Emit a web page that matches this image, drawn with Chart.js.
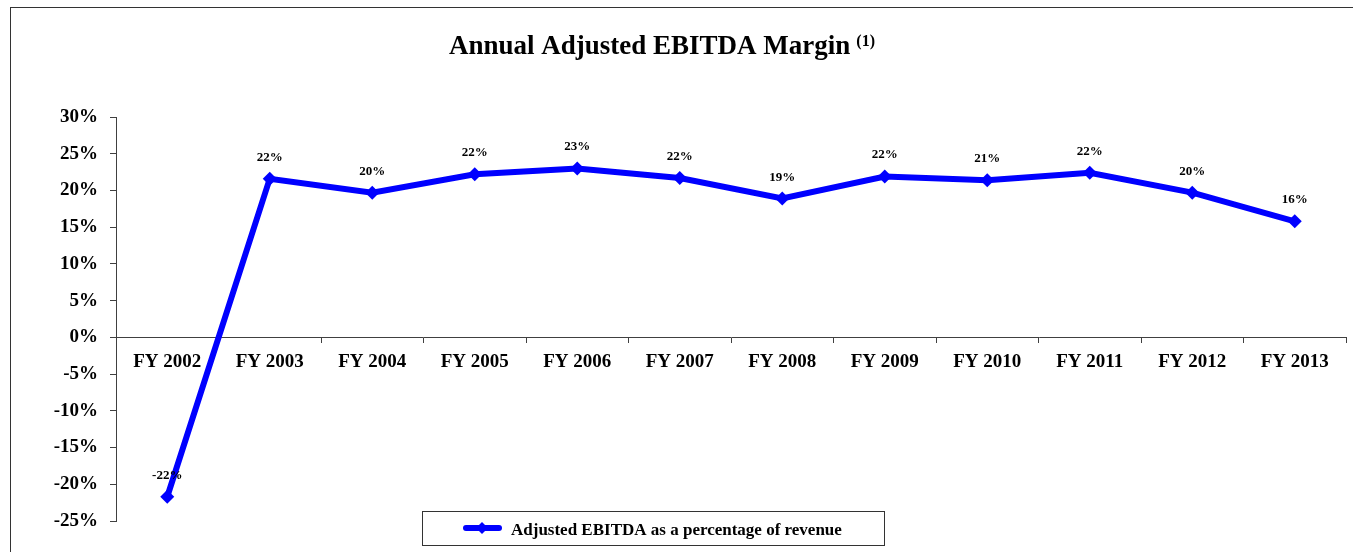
<!DOCTYPE html>
<html>
<head>
<meta charset="utf-8">
<script src="https://cdn.jsdelivr.net/npm/chart.js@4.4.1/dist/chart.umd.min.js"></script>
<style>
  html, body { margin: 0; padding: 0; background: #fff; }
  #wrap { position: relative; width: 1353px; height: 552px; }
</style>
</head>
<body>
<div id="wrap"><canvas id="c" width="1353" height="552"></canvas></div>
<script>
const categories = ["FY 2002","FY 2003","FY 2004","FY 2005","FY 2006","FY 2007","FY 2008","FY 2009","FY 2010","FY 2011","FY 2012","FY 2013"];
const marginValues = [-21.7, 21.6, 19.7, 22.2, 23.0, 21.7, 18.9, 21.9, 21.4, 22.4, 19.7, 15.8];
const seriesLabel = "Adjusted EBITDA as a percentage of revenue";
const titleText = "Annual Adjusted EBITDA Margin";
const titleNote = "(1)";
const yMin = -25, yMax = 30, yStep = 5;

const FONT = "'Liberation Serif', 'Times New Roman', Times, serif";
const BLUE = "#0000FF";
const AXIS = "#404040";

const framePlugin = {
  id: "frame",
  beforeDraw(chart) {
    const ctx = chart.ctx;
    ctx.save();
    ctx.fillStyle = "#fff";
    ctx.fillRect(0, 0, chart.width, chart.height);
    ctx.strokeStyle = "#333";
    ctx.lineWidth = 1;
    ctx.strokeRect(10.5, 7.5, chart.width + 50, chart.height + 50);
    // title
    ctx.fillStyle = "#000";
    ctx.textBaseline = "alphabetic";
    ctx.font = "bold 27px " + FONT;
    const w1 = ctx.measureText(titleText).width;
    ctx.font = "bold 16px " + FONT;
    const w2 = ctx.measureText(titleNote).width;
    const gap = 6;
    const cx = 662;
    const x0 = cx - (w1 + gap + w2) / 2;
    ctx.font = "bold 27px " + FONT;
    ctx.textAlign = "left";
    ctx.fillText(titleText, x0, 54);
    ctx.font = "bold 16px " + FONT;
    ctx.fillText(titleNote, x0 + w1 + gap, 46);
    ctx.restore();
  }
};

const labelPlugin = {
  id: "pointLabels",
  afterDatasetsDraw(chart) {
    const ctx = chart.ctx;
    const meta = chart.getDatasetMeta(0);
    ctx.save();
    ctx.fillStyle = "#000";
    ctx.font = "bold 13px " + FONT;
    ctx.textAlign = "center";
    ctx.textBaseline = "alphabetic";
    meta.data.forEach((pt, i) => {
      const v = chart.data.datasets[0].data[i];
      ctx.fillText(Math.round(v) + "%", pt.x, pt.y - 18);
    });
    ctx.restore();
  }
};

const legendPlugin = {
  id: "boxLegend",
  afterDraw(chart) {
    const ctx = chart.ctx;
    const ds = chart.data.datasets[0];
    ctx.save();
    const bx = 422.5, by = 511.5, bw = 462, bh = 34;
    ctx.fillStyle = "#fff";
    ctx.fillRect(bx, by, bw, bh);
    ctx.strokeStyle = "#333";
    ctx.lineWidth = 1;
    ctx.strokeRect(bx, by, bw, bh);
    const ly = 528;
    ctx.strokeStyle = ds.borderColor;
    ctx.lineWidth = 6;
    ctx.lineCap = "round";
    ctx.beginPath();
    ctx.moveTo(466, ly);
    ctx.lineTo(499, ly);
    ctx.stroke();
    ctx.fillStyle = ds.borderColor;
    ctx.beginPath();
    const r = 6;
    ctx.moveTo(482, ly - r);
    ctx.lineTo(482 + r, ly);
    ctx.lineTo(482, ly + r);
    ctx.lineTo(482 - r, ly);
    ctx.closePath();
    ctx.fill();
    ctx.fillStyle = "#000";
    ctx.font = "bold 17px " + FONT;
    ctx.textAlign = "left";
    ctx.textBaseline = "alphabetic";
    ctx.fillText(ds.label, 511, 535);
    ctx.restore();
  }
};

new Chart(document.getElementById("c"), {
  type: "line",
  data: {
    labels: categories,
    datasets: [{
      label: seriesLabel,
      data: marginValues,
      borderColor: BLUE,
      backgroundColor: BLUE,
      borderWidth: 6,
      tension: 0,
      pointStyle: "rectRot",
      pointRadius: 7,
      pointHoverRadius: 7,
      pointBackgroundColor: BLUE,
      pointBorderColor: BLUE,
      pointBorderWidth: 0,
      clip: false
    }]
  },
  options: {
    responsive: false,
    animation: false,
    events: [],
    layout: { padding: { left: 0, right: 6, top: 117, bottom: 31 } },
    plugins: {
      legend: { display: false },
      title: { display: false },
      tooltip: { enabled: false }
    },
    scales: {
      x: {
        type: "category",
        position: { y: 0 },
        offset: true,
        grid: { offset: true, drawOnChartArea: false, drawTicks: true, tickLength: 5, color: AXIS, lineWidth: 1 },
        border: { display: true, color: AXIS, width: 1 },
        ticks: { color: "#000", font: { family: FONT, size: 19, weight: "bold" }, padding: 8, maxRotation: 0, autoSkip: false }
      },
      y: {
        min: yMin,
        max: yMax,
        afterFit(scale) { scale.width = 116; },
        grid: { drawOnChartArea: false, drawTicks: true, tickLength: 6, color: AXIS, lineWidth: 1 },
        border: { display: true, color: AXIS, width: 1 },
        ticks: {
          stepSize: yStep,
          color: "#000",
          padding: 12,
          font: { family: FONT, size: 19, weight: "bold" },
          callback: (v) => v + "%"
        }
      }
    }
  },
  plugins: [framePlugin, labelPlugin, legendPlugin]
});
</script>
</body>
</html>
